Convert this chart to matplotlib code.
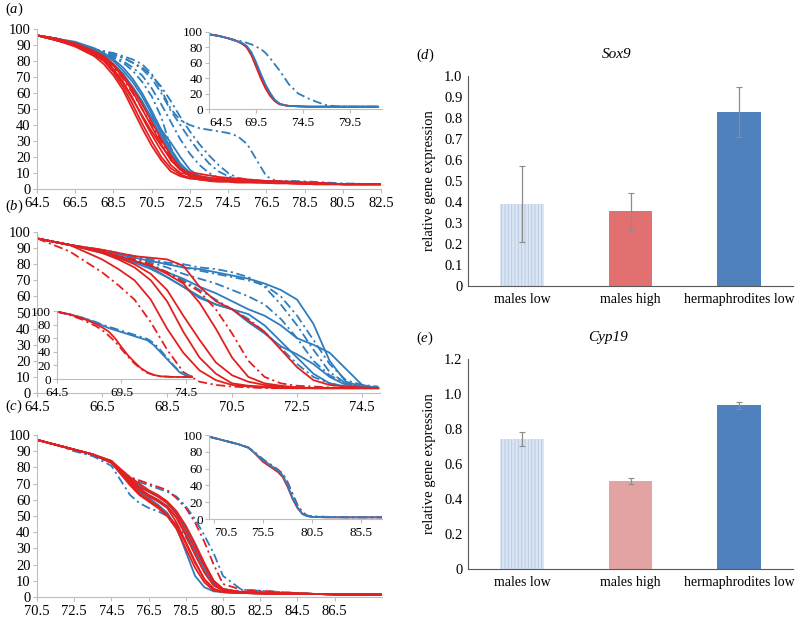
import matplotlib
matplotlib.use("Agg")
import matplotlib.pyplot as plt
from matplotlib.ticker import FixedLocator, FuncFormatter

plt.rcParams['font.family'] = ['Liberation Serif', 'DejaVu Serif']
plt.rcParams['mathtext.fontset'] = 'custom'
plt.rcParams['mathtext.rm'] = 'Liberation Serif'
plt.rcParams['mathtext.it'] = 'Liberation Serif:italic'
plt.rcParams['hatch.linewidth'] = 0.6

RED = '#e3201f'
BLUE = '#2f7dbd'

# ---------------- panel (a) ----------------
xa = [64.5, 65.5, 66.5, 67.5, 68, 68.5, 69, 69.5, 70, 70.5, 71, 71.5, 72, 72.5, 73, 73.5, 74, 74.5, 75, 75.5, 76, 76.5, 77, 78, 79, 80.5, 82.5]
a_red_solid = [
    [96, 93, 89, 83, 78, 71, 62, 50, 38, 27, 18, 11, 8, 6.5, 6, 5.5, 5, 5, 4.5, 4.5, 4, 4, 4, 3.5, 3, 3, 3],
    [96, 93, 90, 84, 80, 73, 64, 53, 41, 30, 20, 13, 9, 7, 6, 5.5, 5, 5, 5, 4.5, 4.5, 4, 4, 3.5, 3, 3, 3],
    [96, 93, 90, 85, 81, 75, 67, 57, 45, 34, 24, 15, 10, 9, 8, 7, 6.5, 6, 5.5, 5, 5, 4.5, 4.5, 4, 3.5, 3, 3],
    [96, 94, 91, 86, 82, 77, 70, 61, 50, 39, 28, 18, 12, 10.5, 9.5, 8.5, 7.5, 7, 6.5, 6, 5.5, 5, 5, 4.5, 4, 3, 3],
    [96, 94, 91, 86, 83, 78, 71, 63, 53, 42, 31, 21, 13, 9, 7, 6, 5.5, 5, 5, 4.5, 4.5, 4, 4, 3.5, 3.5, 3, 3],
    [96, 93, 90, 84, 80, 74, 66, 56, 46, 36, 27, 19, 12, 8, 6, 5, 4.5, 4.5, 4, 4, 4, 4, 3.5, 3.5, 3, 3, 3],
]
a_red_dashdot = [
    [96, 93, 90, 85, 81, 76, 69, 60, 50, 40, 30, 20, 13, 9, 7, 6, 5.5, 5, 5, 4.5, 4.5, 4, 4, 3.5, 3, 3, 3],
]
a_blue_solid = [
    [96, 94, 91, 86, 83, 78, 72, 64, 55, 44, 33, 22, 14, 9, 7, 6, 5.5, 5, 5, 5, 4.5, 4.5, 4, 4, 3.5, 3, 3],
    [96, 94, 91, 87, 84, 80, 74, 67, 58, 47, 35, 24, 15, 10, 7.5, 6.5, 6, 5.5, 5.5, 5, 5, 4.5, 4.5, 4, 3.5, 3, 3],
    [96, 94, 92, 88, 85, 81, 76, 69, 60, 49, 37, 25, 16, 10, 8, 7, 6, 6, 5.5, 5, 5, 4.5, 4.5, 4, 3.5, 3, 3],
    [96, 94, 91, 87, 83, 78, 72, 63, 53, 45, 37, 29, 20, 12, 8, 6.5, 6, 5.5, 5, 5, 5, 4.5, 4.5, 4, 3.5, 3, 3],
]
a_blue_dashdot = [
    [96, 94, 91, 87, 86, 85, 83, 81, 78, 72, 62, 50, 43, 40, 38, 37, 36, 35, 33, 28, 18, 8, 5, 5, 4.5, 3.5, 3],
    [96, 94, 91, 87, 86, 84, 82, 79, 75, 69, 60, 49, 40, 31, 23, 16, 11, 8, 6, 5.5, 5, 5, 4.5, 4, 3.5, 3, 3],
    [96, 94, 91, 87, 85, 83, 80, 76, 71, 63, 53, 42, 31, 22, 15, 10, 7, 6, 5.5, 5, 5, 5, 4.5, 4, 3.5, 3, 3],
    [96, 94, 91, 87, 85, 82, 79, 74, 67, 58, 45, 26, 14, 8, 6, 5.5, 5, 5, 5, 4.5, 4.5, 4.5, 4, 4, 3.5, 3, 3],
    [96, 94, 91, 87, 86, 84, 82, 79, 76, 71, 64, 55, 45, 36, 28, 21, 15, 10, 7, 6, 5.5, 5, 5, 4.5, 4, 3, 3],
]
xa_in = [64.5, 65.5, 66.5, 67.5, 68, 68.5, 69, 69.5, 70, 70.5, 71, 71.5, 72, 72.5, 73, 74, 75, 76, 77, 78, 80, 82.5]
ain_red_solid = [
    [97, 95, 92, 88, 85, 80, 70, 55, 40, 27, 17, 10, 6, 5, 4, 3.5, 3, 3, 3, 3, 3, 3],
    [97, 95, 92, 88, 85, 81, 72, 58, 43, 30, 19, 11, 7, 5, 4, 3.5, 3, 3, 3, 3, 3, 3],
]
ain_blue_solid = [
    [97, 95, 92, 88, 86, 82, 74, 61, 46, 32, 21, 12, 7, 5, 4, 3.5, 3, 3, 3, 3, 3, 3],
]
ain_blue_dashdot = [
    [97, 95, 92, 89, 88, 86, 84, 81, 78, 73, 66, 58, 50, 41, 32, 20, 14, 9, 5, 3.5, 3, 3],
]

# ---------------- panel (b) ----------------
xb = [64.5, 65.5, 66.5, 67, 67.5, 68, 68.5, 69, 69.5, 70, 70.5, 71, 71.5, 72, 72.5, 73, 73.5, 74, 74.5, 75]
b_red_solid = [
    [96, 92, 83, 77, 70, 58, 40, 25, 14, 8, 5, 4, 3.5, 3, 3, 3, 3, 3, 3, 3],
    [96, 92, 87, 83, 78, 70, 57, 38, 22, 12, 6, 4.5, 4, 3.5, 3, 3, 3, 3, 3, 3],
    [96, 92, 88, 84, 80, 74, 64, 48, 33, 19, 11, 7, 5, 4, 3.5, 3, 3, 3, 3, 3],
    [96, 92, 88, 85, 82, 79, 74, 68, 56, 40, 22, 10, 6, 4.5, 3.5, 3, 3, 3, 3, 3],
    [96, 92, 89, 87, 85, 84, 83, 79, 66, 57, 52, 45, 38, 27, 16, 8, 5, 4, 3.5, 3],
]
b_red_dashdot = [
    [96, 88, 75, 67, 58, 44, 27, 13, 7, 5, 4, 3.5, 3, 3, 3, 3, 3, 3, 3, 3],
    [96, 92, 88, 85, 83, 80, 75, 69, 63, 52, 37, 20, 10, 6, 4.5, 4, 3.5, 3, 3, 3],
]
b_blue_solid = [
    [96, 92, 88, 86, 84, 82, 80, 78, 77, 75, 73, 71, 68, 64, 58, 43, 20, 7, 4, 3],
    [96, 92, 88, 85, 82, 78, 72, 66, 60, 55, 52, 49, 42, 32, 22, 12, 6, 4, 3.5, 3],
    [96, 92, 87, 84, 81, 77, 72, 66, 59, 55, 52, 44, 37, 29, 24, 18, 10, 5, 3.5, 3],
    [96, 92, 88, 85, 82, 79, 75, 71, 66, 62, 57, 52, 48, 42, 34, 30, 25, 15, 5, 3],
]
b_blue_dashdot = [
    [96, 92, 89, 87, 85, 83, 81, 80, 78, 77, 75, 72, 66, 55, 42, 27, 13, 6, 4, 3.5],
    [96, 92, 88, 86, 84, 81, 78, 74, 71, 68, 64, 60, 55, 46, 34, 20, 11, 6, 4, 3.5],
    [96, 92, 88, 85, 82, 79, 75, 70, 64, 58, 52, 46, 38, 28, 18, 10, 6, 4, 3.5, 3],
    [96, 92, 88, 86, 84, 82, 80, 78, 76, 74, 72, 70, 67, 60, 48, 33, 18, 8, 5, 4],
]
xb_in = [64.5, 65.5, 66.5, 67.5, 68, 68.5, 69, 69.5, 70, 70.5, 71, 71.5, 72, 72.5, 73, 73.5, 74, 74.5, 75]
bin_red_solid = [[99, 95, 89, 81, 76, 70, 60, 47, 35, 25, 16, 10, 6, 4, 3.5, 3, 3, 3, 3]]
bin_red_dashdot = [[99, 94, 87, 78, 72, 64, 55, 44, 33, 23, 15, 9, 6, 4, 3.5, 3, 3, 3, 3]]
bin_blue_solid = [[99, 95, 90, 83, 79, 75, 72, 69, 66, 63, 60, 57, 50, 40, 30, 20, 10, 5, 3]]
bin_blue_dashdot = [[99, 95, 90, 84, 80, 77, 74, 71, 68, 65, 62, 59, 53, 43, 32, 21, 11, 6, 4]]

# ---------------- panel (c) ----------------
xc = [70.5, 71.5, 72.5, 73.5, 74.5, 75, 75.5, 76, 76.5, 77, 77.5, 78, 78.5, 79, 79.5, 80, 80.5, 81.5, 83, 85, 87, 89]
c_red_solid = [
    [97, 94, 91, 88, 83, 77, 71, 66, 62, 59, 55, 46, 34, 22, 11, 5, 3, 2.5, 2, 2, 1.5, 1.5],
    [97, 94, 91, 88, 83, 78, 72, 67, 63, 60, 56, 49, 38, 26, 15, 7, 4, 3, 2.5, 2, 1.5, 1.5],
    [97, 94, 91, 88, 83, 76, 69, 63, 59, 55, 50, 42, 30, 18, 9, 4, 3, 2.5, 2, 2, 1.5, 1.5],
    [97, 94, 91, 88, 84, 78, 73, 68, 65, 62, 58, 51, 41, 30, 19, 9, 4.5, 3, 2.5, 2, 1.5, 1.5],
    [97, 94, 91, 88, 83, 77, 70, 64, 60, 56, 51, 44, 33, 21, 11, 5, 3, 2.5, 2, 2, 1.5, 1.5],
    [97, 94, 91, 88, 84, 79, 74, 70, 66, 63, 59, 53, 44, 33, 21, 10, 5, 3, 2.5, 2, 1.5, 1.5],
]
c_red_dashdot = [
    [97, 94, 91, 88, 83, 77, 74, 72, 70, 68, 66, 61, 55, 46, 34, 20, 8, 4.5, 3.5, 2, 1.5, 1.5],
]
c_blue_solid = [
    [97, 94, 91, 88, 83, 76, 70, 65, 61, 57, 52, 43, 28, 13, 6, 3.5, 3, 2.5, 2, 2, 1.5, 1.5],
    [97, 94, 91, 88, 83, 77, 71, 67, 63, 60, 56, 49, 39, 28, 17, 8, 4, 3, 2.5, 2, 1.5, 1.5],
    [97, 94, 91, 88, 84, 78, 73, 69, 65, 62, 58, 52, 43, 32, 20, 10, 5, 3, 2.5, 2, 1.5, 1.5],
]
c_blue_dashdot = [
    [97, 94, 91, 87, 81, 72, 63, 58, 55, 53, 50, 45, 37, 27, 16, 8, 4, 3.5, 3, 2, 1.5, 1.5],
    [97, 94, 90, 87, 83, 78, 74, 71, 69, 67, 65, 62, 56, 48, 38, 27, 13, 4.5, 3.5, 2, 1.5, 1.5],
]
xc_in = [70, 71, 72, 73, 74, 74.5, 75, 75.5, 76, 76.5, 77, 77.5, 78, 78.5, 79, 79.5, 80, 80.5, 82, 84, 86, 87.6]
cin_red_solid = [[98, 95, 92, 89, 85, 80, 74, 68, 64, 60, 56, 50, 38, 24, 13, 6, 3.5, 2.5, 2, 2, 2, 2]]
cin_red_dashdot = [[98, 95, 92, 89, 85, 81, 76, 71, 67, 63, 59, 54, 44, 30, 17, 8, 4, 3, 2.5, 2, 2, 2]]
cin_blue_dashdot = [[98, 95, 92, 89, 85, 80, 76, 71, 66, 62, 58, 53, 43, 29, 16, 8, 4, 3, 2.5, 2, 2, 2]]
cin_blue_solid = [[98, 95, 92, 89, 85, 80, 75, 70, 66, 62, 58, 52, 40, 25, 14, 6, 3.5, 2.5, 2, 2, 2, 2]]

# ---------------- bar panels ----------------
groups = ['males low', 'males high', 'hermaphrodites low']
sox9_mean = [0.39, 0.355, 0.83]
sox9_err = [0.18, 0.09, 0.12]
cyp19_mean = [0.743, 0.503, 0.937]
cyp19_err = [0.04, 0.017, 0.02]

W, H = 796, 619
fig = plt.figure(figsize=(W / 100, H / 100), dpi=100)


def px_axes(l, t, r, b):
    return fig.add_axes([l / W, 1 - b / H, (r - l) / W, (b - t) / H])


DD = (0, (5, 2, 1.2, 2))


def style_line_ax(ax, xlim, xticks, yticks, fs, first_left=False):
    ax.set_xlim(*xlim)
    ax.set_ylim(0, 100)
    for s in ['top', 'right']:
        ax.spines[s].set_visible(False)
    for s in ['left', 'bottom']:
        ax.spines[s].set_color('#bdbdbd')
        ax.spines[s].set_linewidth(0.8)
    ax.set_xticks(xticks)
    ax.set_yticks(yticks)
    ax.set_xticklabels([('%.1f' % v) for v in xticks])
    ax.set_yticklabels([('%d' % v) for v in yticks])
    ax.tick_params(axis='both', colors='#bdbdbd', labelcolor='black', labelsize=fs,
                   length=3, width=0.8, pad=1.5)
    ax.tick_params(axis='x', pad=3)
    if first_left:
        ax.get_xticklabels()[0].set_horizontalalignment('left')
    ax.set_facecolor('white')


def draw(ax, x, curves, color, ls, lw=1.3):
    for c in curves:
        ax.plot(x, c, color=color, ls=ls, lw=lw, solid_capstyle='round')


# (a)
axa = px_axes(37, 29, 381, 189)
style_line_ax(axa, (64.5, 82.5), [64.5 + 2 * i for i in range(10)], list(range(0, 101, 10)), 10.5)
draw(axa, xa, a_blue_dashdot, BLUE, DD)
draw(axa, xa, a_blue_solid, BLUE, '-')
draw(axa, xa, a_red_dashdot, RED, DD)
draw(axa, xa, a_red_solid, RED, '-')

axai = px_axes(209, 32, 382, 109)
style_line_ax(axai, (64.5, 82.9), [64.5, 69.5, 74.5, 79.5], list(range(0, 101, 20)), 9.5, True)
draw(axai, xa_in, ain_blue_dashdot, BLUE, DD)
draw(axai, xa_in, ain_red_solid, RED, '-')
draw(axai, xa_in, ain_blue_solid, BLUE, '-')

# (b)
axb = px_axes(37, 232, 380, 393)
style_line_ax(axb, (64.5, 75.05), [64.5 + 2 * i for i in range(6)], list(range(0, 101, 10)), 10.5)
draw(axb, xb, b_blue_dashdot, BLUE, DD)
draw(axb, xb, b_blue_solid, BLUE, '-')
draw(axb, xb, b_red_dashdot, RED, DD)
draw(axb, xb, b_red_solid, RED, '-')

axbi = px_axes(57, 311, 193, 379)
style_line_ax(axbi, (64.5, 75.05), [64.5, 69.5, 74.5], list(range(0, 101, 20)), 9.5)
axbi.patch.set_alpha(0.0)
draw(axbi, xb_in, bin_blue_dashdot, BLUE, DD)
draw(axbi, xb_in, bin_blue_solid, BLUE, '-')
draw(axbi, xb_in, bin_red_dashdot, RED, DD)
draw(axbi, xb_in, bin_red_solid, RED, '-')

# (c)
axc = px_axes(37, 435, 382, 597)
style_line_ax(axc, (70.5, 89.05), [70.5 + 2 * i for i in range(9)], list(range(0, 101, 10)), 10.5)
draw(axc, xc, c_blue_dashdot, BLUE, DD)
draw(axc, xc, c_red_dashdot, RED, DD)
draw(axc, xc, c_blue_solid, BLUE, '-')
draw(axc, xc, c_red_solid, RED, '-')

axci = px_axes(209, 435, 382, 519)
style_line_ax(axci, (70.0, 87.6), [70.5, 75.5, 80.5, 85.5], list(range(0, 101, 20)), 9.5, True)
draw(axci, xc_in, cin_red_dashdot, RED, DD)
draw(axci, xc_in, cin_red_solid, RED, '-')
draw(axci, xc_in, cin_blue_dashdot, BLUE, DD)
draw(axci, xc_in, cin_blue_solid, BLUE, '-')

# panel letters for line plots
for lab, y in [('a', 9), ('b', 206), ('c', 406)]:
    fig.text(5 / W, 1 - y / H, r'($\mathit{%s}$)' % lab, fontsize=10.5, va='center', ha='left')

# bar panels
bar_colors_d = ['#dbe5f3', '#e27070', '#4f81bd']
bar_colors_e = ['#dbe5f3', '#e4a3a3', '#4f81bd']
hatch_cols = ['#b4c8e4', None, None]


def bar_panel(t, b, means, errs, colors, ymax, step, title, letter, title_x, fmt):
    ax = px_axes(468, t, 793, b)
    xs = list(range(len(groups)))
    for i in xs:
        if hatch_cols[i]:
            ax.bar(xs[i], means[i], width=0.4, color=colors[i], edgecolor=hatch_cols[i],
                   hatch='|||||', linewidth=0)
        else:
            ax.bar(xs[i], means[i], width=0.4, color=colors[i], linewidth=0)
    ax.errorbar(xs, means, yerr=errs, fmt='none', ecolor='#8c8c8c', elinewidth=0.9,
                capsize=2, capthick=0.8)
    ax.set_xlim(-0.5, 2.5)
    ax.set_ylim(0, ymax)
    n = int(round(ymax / step))
    ticks = [step * i for i in range(n + 1)]
    ax.yaxis.set_major_locator(FixedLocator(ticks))
    ax.yaxis.set_major_formatter(FuncFormatter(fmt))
    ax.set_xticks(xs)
    ax.set_xticklabels(groups)
    for s in ['top', 'right']:
        ax.spines[s].set_visible(False)
    for s in ['left', 'bottom']:
        ax.spines[s].set_color('#595959')
        ax.spines[s].set_linewidth(0.8)
    ax.tick_params(axis='y', length=0, labelsize=10.5, pad=4)
    ax.tick_params(axis='x', length=0, labelsize=10, pad=5)
    ax.set_ylabel('relative gene expression', fontsize=10.5, labelpad=6)
    fig.text(title_x / W, 1 - (t - 21) / H, title, fontsize=11, ha='center', va='center',
             style='italic')
    fig.text(425 / W, 1 - (t - 21) / H, r'($\mathit{%s}$)' % letter, fontsize=10.5,
             ha='center', va='center')
    return ax


bar_panel(76, 286, sox9_mean, sox9_err, bar_colors_d, 1.0, 0.1, 'Sox9', 'd', 617,
          lambda v, p: '0' if abs(v) < 1e-9 else '%.1f' % v)
bar_panel(359, 569, cyp19_mean, cyp19_err, bar_colors_e, 1.2, 0.2, 'Cyp19', 'e', 608,
          lambda v, p: '0' if abs(v) < 1e-9 else '%.1f' % v)

fig.savefig('out.png', dpi=100)
